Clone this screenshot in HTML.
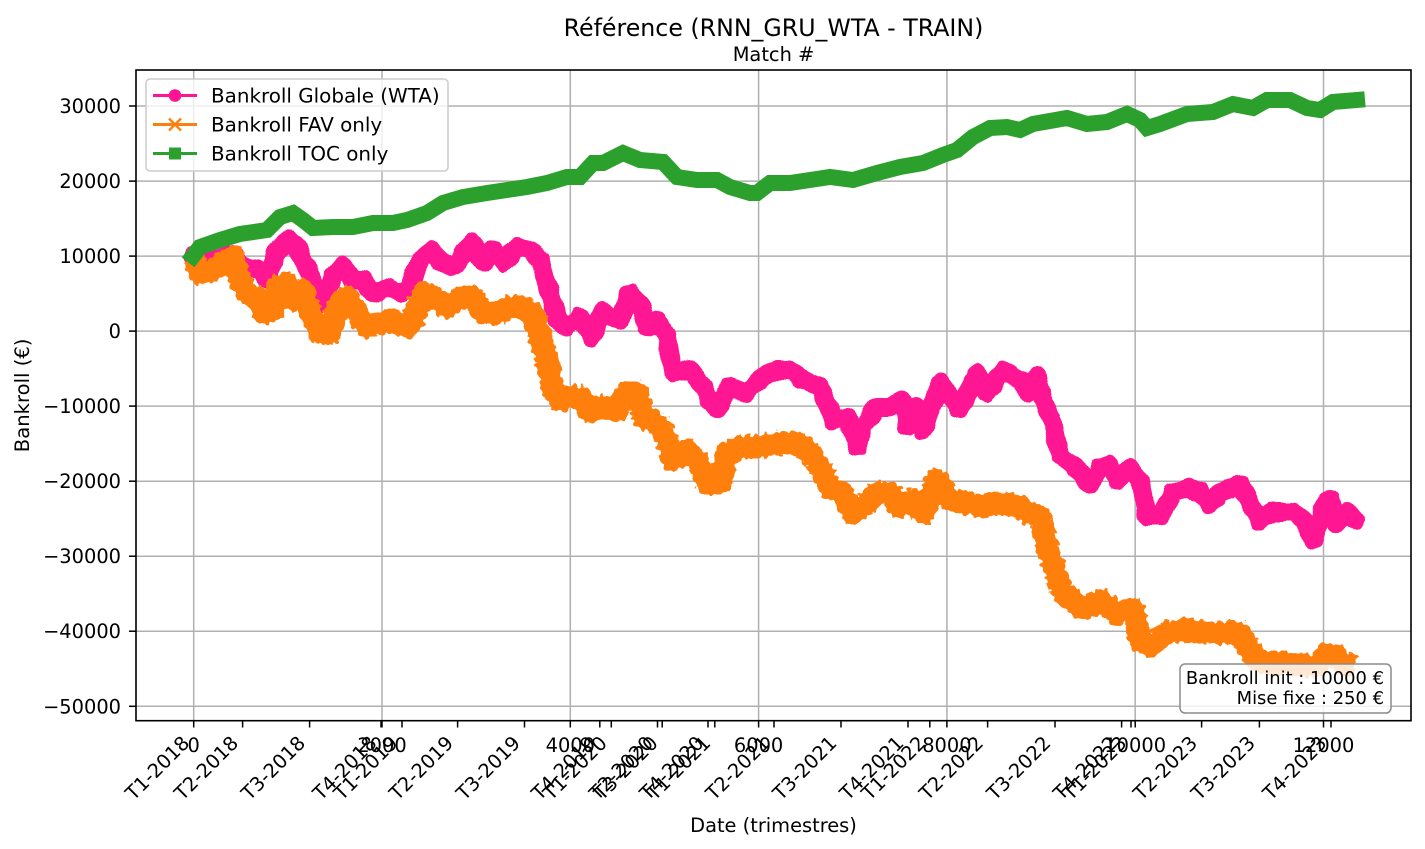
<!DOCTYPE html>
<html>
<head>
<meta charset="utf-8">
<style>
  html, body { margin: 0; padding: 0; background: #ffffff; }
  svg { display: block; }
  text { font-family: "DejaVu Sans", "Liberation Sans", sans-serif; fill: #000; }
</style>
</head>
<body>
<svg width="1425" height="849" viewBox="0 0 1425 849" xmlns="http://www.w3.org/2000/svg">
  <defs>
    <filter id="jagO" x="0" y="0" width="1425" height="849" filterUnits="userSpaceOnUse">
      <feTurbulence type="fractalNoise" baseFrequency="0.22" numOctaves="1" seed="5" result="t"/>
      <feDisplacementMap in="SourceGraphic" in2="t" scale="9" xChannelSelector="R" yChannelSelector="G"/>
    </filter>
    <filter id="jagP" x="0" y="0" width="1425" height="849" filterUnits="userSpaceOnUse">
      <feTurbulence type="fractalNoise" baseFrequency="0.08" numOctaves="1" seed="2" result="t"/>
      <feDisplacementMap in="SourceGraphic" in2="t" scale="7" xChannelSelector="R" yChannelSelector="G"/>
    </filter>
  </defs>
  <rect x="0" y="0" width="1425" height="849" fill="#ffffff"/>

  <!-- Grid -->
  <g stroke="#b0b0b0" stroke-width="1.5" fill="none">
    <line x1="193.7" y1="70" x2="193.7" y2="720.7"/>
    <line x1="382" y1="70" x2="382" y2="720.7"/>
    <line x1="570.3" y1="70" x2="570.3" y2="720.7"/>
    <line x1="758.6" y1="70" x2="758.6" y2="720.7"/>
    <line x1="946.9" y1="70" x2="946.9" y2="720.7"/>
    <line x1="1135.2" y1="70" x2="1135.2" y2="720.7"/>
    <line x1="1323.5" y1="70" x2="1323.5" y2="720.7"/>
    <line x1="136" y1="106" x2="1411" y2="106"/>
    <line x1="136" y1="181.1" x2="1411" y2="181.1"/>
    <line x1="136" y1="256.1" x2="1411" y2="256.1"/>
    <line x1="136" y1="331.1" x2="1411" y2="331.1"/>
    <line x1="136" y1="406.1" x2="1411" y2="406.1"/>
    <line x1="136" y1="481.2" x2="1411" y2="481.2"/>
    <line x1="136" y1="556.2" x2="1411" y2="556.2"/>
    <line x1="136" y1="631.2" x2="1411" y2="631.2"/>
    <line x1="136" y1="706.3" x2="1411" y2="706.3"/>
  </g>

  <!-- Series: Bankroll Globale (WTA) -->
  <polyline filter="url(#jagP)" fill="none" stroke="#ff1493" stroke-width="19" stroke-linejoin="round" stroke-linecap="round"
    points="193,256 200,258 210,260 222,258 232,253 240,262 248,268 260,270 268,280 277,250 290,240 297,247 307,267 317,293 323,303 333,277 343,265 353,280 363,280 373,293 387,287 400,293 410,287 420,260 430,250 440,260 453,267 473,243 483,263 493,250 503,263 517,247 530,250 540,260 550,293 557,320 567,327 580,317 592,337 603,310 610,317 620,320 630,293 640,303 647,327 657,320 667,337 673,373 690,370 703,387 717,410 730,387 747,393 763,377 777,370 790,370 803,380 820,387 833,420 847,417 857,447 863,427 877,407 890,407 903,400 907,427 917,407 923,430 940,383 960,410 977,373 987,393 1003,370 1020,380 1027,392 1037,377 1043,400 1053,424 1060,456 1073,464 1090,484 1100,468 1110,464 1117,480 1130,468 1140,480 1147,516 1160,516 1173,492 1187,488 1200,492 1210,504 1220,492 1233,488 1240,484 1250,504 1260,520 1273,512 1293,512 1303,520 1313,540 1323,512 1330,500 1337,524 1347,512 1355,520"/>

  <!-- Series: Bankroll FAV only -->
  <polyline filter="url(#jagO)" fill="none" stroke="#ff7f0e" stroke-width="23" stroke-linejoin="round" stroke-linecap="butt"
    points="193,258 197,265 200,273 213,270 227,260 233,257 240,280 247,293 260,300 263,313 273,310 277,287 287,283 293,300 303,290 310,313 320,333 330,333 337,307 347,297 357,313 367,327 380,323 393,320 407,327 413,320 423,293 433,297 447,307 463,297 473,297 483,313 497,313 510,307 523,307 533,313 540,337 547,360 553,387 560,400 570,397 580,397 590,412 600,407 617,410 627,393 637,393 643,417 657,423 667,440 673,460 687,450 697,460 707,483 720,483 727,453 740,447 760,447 777,443 797,443 810,453 820,467 830,487 843,493 853,513 867,503 877,493 890,493 900,507 913,500 923,513 937,480 950,500 967,503 983,507 1000,503 1020,507 1027,512 1040,517 1047,545 1057,577 1063,593 1083,609 1100,601 1117,613 1133,609 1140,641 1150,645 1167,633 1187,629 1207,633 1227,633 1240,633 1250,650 1257,660 1270,664 1287,663 1303,665 1317,666 1327,654 1337,656 1343,664 1355,666"/>

  <!-- Series: Bankroll TOC only -->
  <polyline fill="none" stroke="#2ca02c" stroke-width="16" stroke-linejoin="miter" stroke-linecap="square"
    points="193,256 200,247 220,240 240,234 267,230 280,217 293,213 303,220 313,228 333,227 353,227 373,223 393,223 407,220 427,213 443,203 463,197 487,193 507,190 527,187 547,183 567,177 580,177 593,163 603,163 623,153 640,160 663,162 677,177 697,180 717,180 730,187 750,193 757,193 770,183 790,183 810,180 830,177 853,180 877,173 900,167 923,163 943,155 957,150 973,137 990,128 1007,127 1020,130 1033,124 1067,118 1087,124 1107,122 1127,114 1140,120 1147,128 1160,124 1187,114 1213,112 1233,104 1253,108 1267,100 1290,100 1307,108 1320,110 1333,102 1357,100"/>

  <!-- Spines -->
  <rect x="136" y="70" width="1275" height="650.7" fill="none" stroke="#000" stroke-width="1.6"/>

  <!-- Y ticks -->
  <g stroke="#000" stroke-width="1.5">
    <line x1="129" y1="106" x2="136" y2="106"/>
    <line x1="129" y1="181.1" x2="136" y2="181.1"/>
    <line x1="129" y1="256.1" x2="136" y2="256.1"/>
    <line x1="129" y1="331.1" x2="136" y2="331.1"/>
    <line x1="129" y1="406.1" x2="136" y2="406.1"/>
    <line x1="129" y1="481.2" x2="136" y2="481.2"/>
    <line x1="129" y1="556.2" x2="136" y2="556.2"/>
    <line x1="129" y1="631.2" x2="136" y2="631.2"/>
    <line x1="129" y1="706.3" x2="136" y2="706.3"/>
  </g>
  <g font-size="19.4" text-anchor="end">
    <text x="121" y="113">30000</text>
    <text x="121" y="188.1">20000</text>
    <text x="121" y="263.1">10000</text>
    <text x="121" y="338.1">0</text>
    <text x="121" y="413.1">−10000</text>
    <text x="121" y="488.2">−20000</text>
    <text x="121" y="563.2">−30000</text>
    <text x="121" y="638.2">−40000</text>
    <text x="121" y="713.3">−50000</text>
  </g>

  <!-- X ticks (match #) -->
  <g stroke="#000" stroke-width="1.5">
    <line x1="193.7" y1="720.7" x2="193.7" y2="727.5"/>
    <line x1="382" y1="720.7" x2="382" y2="727.5"/>
    <line x1="570.3" y1="720.7" x2="570.3" y2="727.5"/>
    <line x1="758.6" y1="720.7" x2="758.6" y2="727.5"/>
    <line x1="946.9" y1="720.7" x2="946.9" y2="727.5"/>
    <line x1="1135.2" y1="720.7" x2="1135.2" y2="727.5"/>
    <line x1="1323.5" y1="720.7" x2="1323.5" y2="727.5"/>
    <!-- quarter ticks -->
    <line x1="242.6" y1="720.7" x2="242.6" y2="727.5"/>
    <line x1="309.6" y1="720.7" x2="309.6" y2="727.5"/>
    <line x1="381" y1="720.7" x2="381" y2="727.5"/>
    <line x1="402" y1="720.7" x2="402" y2="727.5"/>
    <line x1="457.6" y1="720.7" x2="457.6" y2="727.5"/>
    <line x1="524.5" y1="720.7" x2="524.5" y2="727.5"/>
    <line x1="599.8" y1="720.7" x2="599.8" y2="727.5"/>
    <line x1="611.3" y1="720.7" x2="611.3" y2="727.5"/>
    <line x1="657.5" y1="720.7" x2="657.5" y2="727.5"/>
    <line x1="662.2" y1="720.7" x2="662.2" y2="727.5"/>
    <line x1="708" y1="720.7" x2="708" y2="727.5"/>
    <line x1="714.8" y1="720.7" x2="714.8" y2="727.5"/>
    <line x1="774" y1="720.7" x2="774" y2="727.5"/>
    <line x1="841" y1="720.7" x2="841" y2="727.5"/>
    <line x1="908" y1="720.7" x2="908" y2="727.5"/>
    <line x1="929.8" y1="720.7" x2="929.8" y2="727.5"/>
    <line x1="987.6" y1="720.7" x2="987.6" y2="727.5"/>
    <line x1="1055" y1="720.7" x2="1055" y2="727.5"/>
    <line x1="1121.6" y1="720.7" x2="1121.6" y2="727.5"/>
    <line x1="1131" y1="720.7" x2="1131" y2="727.5"/>
    <line x1="1201.6" y1="720.7" x2="1201.6" y2="727.5"/>
    <line x1="1259.4" y1="720.7" x2="1259.4" y2="727.5"/>
    <line x1="1331" y1="720.7" x2="1331" y2="727.5"/>
  </g>
  <g font-size="19.4" text-anchor="middle">
    <text x="193.7" y="752">0</text>
    <text x="382" y="752">2000</text>
    <text x="570.3" y="752">4000</text>
    <text x="758.6" y="752">6000</text>
    <text x="946.9" y="752">8000</text>
    <text x="1135.2" y="752">10000</text>
    <text x="1323.5" y="752">12000</text>
  </g>
  <!-- Quarter labels rotated -->
  <g font-size="19.4" text-anchor="end">
    <text transform="translate(190.6,744.3) rotate(-45)">T1-2018</text>
    <text transform="translate(239.5,744.3) rotate(-45)">T2-2018</text>
    <text transform="translate(306.5,744.3) rotate(-45)">T3-2018</text>
    <text transform="translate(377.9,744.3) rotate(-45)">T4-2018</text>
    <text transform="translate(398.9,744.3) rotate(-45)">T1-2019</text>
    <text transform="translate(454.5,744.3) rotate(-45)">T2-2019</text>
    <text transform="translate(521.4,744.3) rotate(-45)">T3-2019</text>
    <text transform="translate(596.7,744.3) rotate(-45)">T4-2019</text>
    <text transform="translate(608.2,744.3) rotate(-45)">T1-2020</text>
    <text transform="translate(654.4,744.3) rotate(-45)">T2-2020</text>
    <text transform="translate(659.1,744.3) rotate(-45)">T3-2020</text>
    <text transform="translate(704.9,744.3) rotate(-45)">T4-2020</text>
    <text transform="translate(711.7,744.3) rotate(-45)">T1-2021</text>
    <text transform="translate(770.9,744.3) rotate(-45)">T2-2021</text>
    <text transform="translate(837.9,744.3) rotate(-45)">T3-2021</text>
    <text transform="translate(904.9,744.3) rotate(-45)">T4-2021</text>
    <text transform="translate(926.7,744.3) rotate(-45)">T1-2022</text>
    <text transform="translate(984.5,744.3) rotate(-45)">T2-2022</text>
    <text transform="translate(1051.9,744.3) rotate(-45)">T3-2022</text>
    <text transform="translate(1118.5,744.3) rotate(-45)">T4-2022</text>
    <text transform="translate(1127.9,744.3) rotate(-45)">T1-2023</text>
    <text transform="translate(1198.5,744.3) rotate(-45)">T2-2023</text>
    <text transform="translate(1256.3,744.3) rotate(-45)">T3-2023</text>
    <text transform="translate(1327.9,744.3) rotate(-45)">T4-2023</text>
  </g>

  <!-- Axis labels & titles -->
  <text x="773.5" y="832" font-size="19.4" text-anchor="middle">Date (trimestres)</text>
  <text transform="translate(29,395.4) rotate(-90)" font-size="19.6" text-anchor="middle">Bankroll (€)</text>
  <text x="773.5" y="36" font-size="23.7" text-anchor="middle">Référence (RNN_GRU_WTA - TRAIN)</text>
  <text x="773.5" y="61" font-size="19.4" text-anchor="middle">Match #</text>

  <!-- Legend -->
  <rect x="146" y="79" width="302" height="92" rx="4" ry="4" fill="#ffffff" fill-opacity="0.8" stroke="#cccccc" stroke-width="1.5"/>
  <line x1="153" y1="95.5" x2="197" y2="95.5" stroke="#ff1493" stroke-width="2.9"/>
  <circle cx="175" cy="95.5" r="6.3" fill="#ff1493"/>
  <line x1="153" y1="124.5" x2="197" y2="124.5" stroke="#ff7f0e" stroke-width="2.9"/>
  <g stroke="#ff7f0e" stroke-width="2.4">
    <line x1="169" y1="118.5" x2="181" y2="130.5"/>
    <line x1="169" y1="130.5" x2="181" y2="118.5"/>
  </g>
  <line x1="153" y1="153.5" x2="197" y2="153.5" stroke="#2ca02c" stroke-width="2.9"/>
  <rect x="169" y="147.5" width="12" height="12" fill="#2ca02c"/>
  <g font-size="19.9">
    <text x="211" y="102.5">Bankroll Globale (WTA)</text>
    <text x="211" y="131.5">Bankroll FAV only</text>
    <text x="211" y="160.5">Bankroll TOC only</text>
  </g>

  <!-- Annotation box -->
  <rect x="1180" y="664" width="211" height="49" rx="5" ry="5" fill="#ffffff" fill-opacity="0.82" stroke="#8c8c8c" stroke-width="1.5"/>
  <g font-size="17.9" text-anchor="end">
    <text x="1384" y="684">Bankroll init : 10000 €</text>
    <text x="1384" y="704">Mise fixe : 250 €</text>
  </g>
</svg>
</body>
</html>
